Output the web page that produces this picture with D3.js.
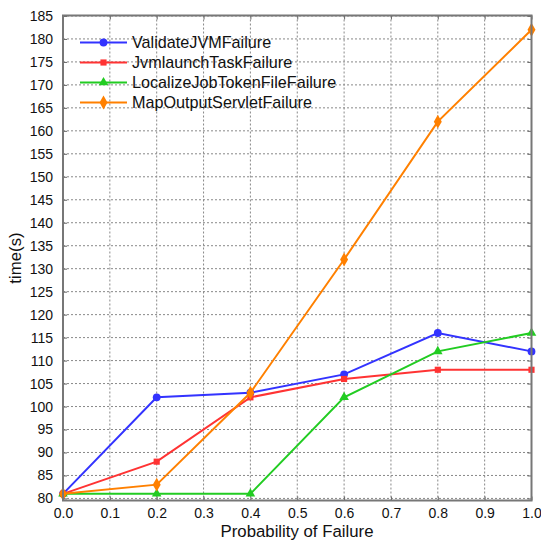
<!DOCTYPE html>
<html><head><meta charset="utf-8">
<script src="https://cdn.jsdelivr.net/npm/d3@7"></script>
<style>body{margin:0;background:#fff}text{font-family:"Liberation Sans",Arial,sans-serif}</style>
</head><body>
<svg id="c" width="541" height="541"></svg>
<script>
const xValues = [0.0, 0.2, 0.4, 0.6, 0.8, 1.0];
const validateJVM = [81, 102, 103, 107, 116, 112];
const jvmLaunch = [81, 88, 102, 106, 108, 108];
const localizeJob = [81, 81, 81, 102, 112, 116];
const mapOutput = [81, 83, 103, 132, 162, 182];
const seriesNames = ["ValidateJVMFailure", "JvmlaunchTaskFailure", "LocalizeJobTokenFileFailure", "MapOutputServletFailure"];
const xTicks = [0,0.1,0.2,0.3,0.4,0.5,0.6,0.7,0.8,0.9,1.0];
const yTicks = d3.range(80, 186, 5);

const series = [
  {name: seriesNames[0], values: validateJVM, color: "#3333ff", sym: d3.symbolCircle, size: 48},
  {name: seriesNames[1], values: jvmLaunch, color: "#ff3333", sym: d3.symbolSquare, size: 38},
  {name: seriesNames[2], values: localizeJob, color: "#22cc22", sym: d3.symbolTriangle, size: 40},
  {name: seriesNames[3], values: mapOutput, color: "#ff8000", sym: d3.symbolDiamond, size: 55}
];

const L = 63, R = 531.5, T = 15.5, B = 500.5;
const svg = d3.select("#c");
const x = d3.scaleLinear().domain([0, 1]).range([L, R]);
const y = d3.scaleLinear().domain([79.55, 185.1]).range([B, T]);

// grid
const g = svg.append("g");
g.selectAll(".vg").data(xTicks.slice(1, -1)).join("line")
  .attr("x1", d => x(d)).attr("x2", d => x(d)).attr("y1", T).attr("y2", B)
  .attr("stroke", "#888").attr("stroke-width", 1).attr("stroke-dasharray", "2,2");
g.selectAll(".hg").data(yTicks).join("line")
  .attr("x1", L).attr("x2", R).attr("y1", d => y(d)).attr("y2", d => y(d))
  .attr("stroke", "#888").attr("stroke-width", 1).attr("stroke-dasharray", "2,2");

// axes with inner ticks
const ax = svg.append("g").attr("transform", `translate(0,${B})`)
  .call(d3.axisBottom(x).tickValues(xTicks).tickFormat(d3.format(".1f")).tickSizeInner(-4).tickSizeOuter(0).tickPadding(8));
const ay = svg.append("g").attr("transform", `translate(${L},0)`)
  .call(d3.axisLeft(y).tickValues(yTicks).tickFormat(d3.format("d")).tickSizeInner(-4).tickSizeOuter(0).tickPadding(10));
const at = svg.append("g").attr("transform", `translate(0,${T})`)
  .call(d3.axisTop(x).tickValues(xTicks).tickFormat("").tickSizeInner(-4).tickSizeOuter(0));
const ar = svg.append("g").attr("transform", `translate(${R},0)`)
  .call(d3.axisRight(y).tickValues(yTicks).tickFormat("").tickSizeInner(-4).tickSizeOuter(0));
[ax, ay, at, ar].forEach(a => {
  a.select(".domain").remove();
  a.selectAll(".tick line").attr("stroke", "#666");
  a.selectAll("text").attr("fill", "#111").style("font-size", "14px");
});

// lines
const line = d3.line().x((d, i) => x(xValues[i])).y(d => y(d));
series.forEach(s => {
  svg.append("path").datum(s.values).attr("d", line)
    .attr("fill", "none").attr("stroke", s.color).attr("stroke-width", 2);
  svg.append("g").selectAll("path").data(s.values).join("path")
    .attr("transform", (d, i) => `translate(${x(xValues[i])},${y(d)})`)
    .attr("d", d3.symbol().type(s.sym).size(s.size)).attr("fill", s.color);
});

// frame
svg.append("rect").attr("x", L).attr("y", T).attr("width", R - L).attr("height", B - T)
  .attr("fill", "none").attr("stroke", "#777").attr("stroke-width", 2);

// legend
const lg = svg.append("g");
series.forEach((s, i) => {
  const yy = 42.5 + i * 20;
  lg.append("line").attr("x1", 80).attr("x2", 127).attr("y1", yy).attr("y2", yy)
    .attr("stroke", s.color).attr("stroke-width", 2);
  lg.append("path").attr("transform", `translate(103.5,${yy})`)
    .attr("d", d3.symbol().type(s.sym).size(s.size)).attr("fill", s.color);
  lg.append("text").attr("x", 132).attr("y", yy).attr("dy", "0.36em")
    .style("font-size", "16.2px").attr("fill", "#111").text(s.name);
});

// axis titles
svg.append("text").attr("x", 297).attr("y", 537).attr("text-anchor", "middle")
  .style("font-size", "16.8px").attr("fill", "#111").text("Probability of Failure");
svg.append("text").attr("transform", `translate(21,${(T + B) / 2}) rotate(-90)`).attr("text-anchor", "middle")
  .style("font-size", "16.8px").attr("fill", "#111").text("time(s)");
</script>
</body></html>
